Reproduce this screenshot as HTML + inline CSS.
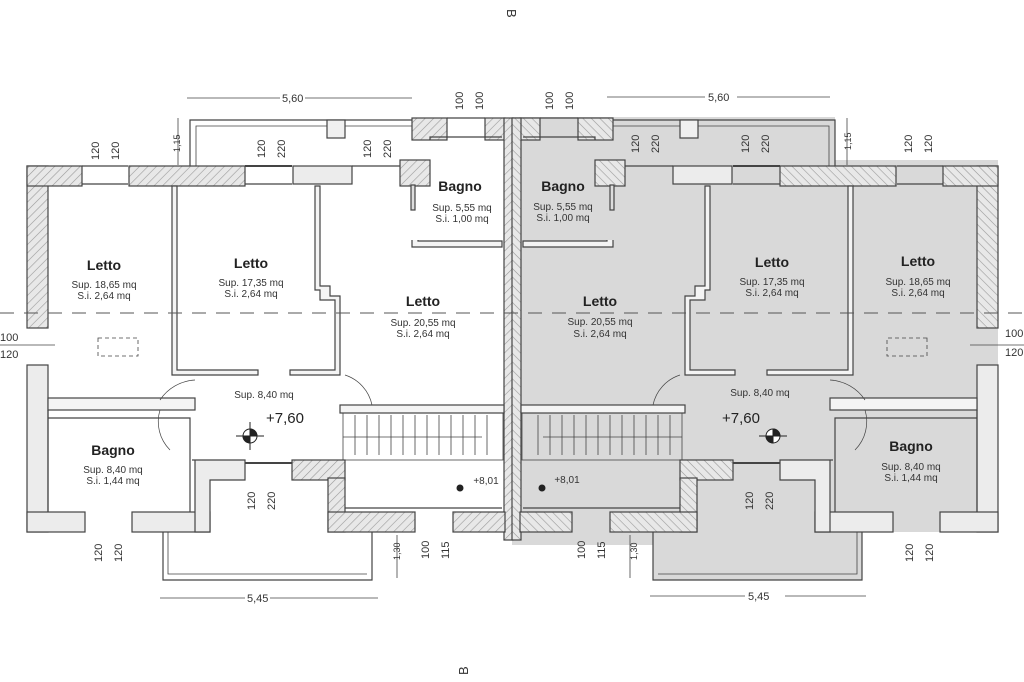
<!DOCTYPE html>
<html><head><meta charset="utf-8"><style>
html,body{margin:0;padding:0;background:#fff;}
svg{display:block;font-family:"Liberation Sans",sans-serif;}
.b{font-weight:bold;font-size:14px;text-anchor:middle;fill:#222}
.s{font-size:10px;text-anchor:middle;fill:#333}
.d{font-size:11px;fill:#333}
</style></head><body>
<svg width="1024" height="682" viewBox="0 0 1024 682" xmlns="http://www.w3.org/2000/svg">
<defs>
<pattern id="h" width="6" height="6" patternUnits="userSpaceOnUse" patternTransform="rotate(45)">
<rect width="6" height="6" fill="#e8e8e8"/><line x1="0" y1="0" x2="0" y2="6" stroke="#999" stroke-width="1.2"/></pattern>
<g id="unit" stroke="#444" stroke-width="1.2">
 <polyline points="190,166 190,120 412,120" fill="none"/>
 <polyline points="196,166 196,126 412,126" fill="none" stroke-width="0.8"/>
 <rect x="327" y="120" width="18" height="18" fill="#f0f0f0"/>
 <rect x="27" y="166" width="21" height="162" fill="url(#h)"/>
 <rect x="27" y="365" width="21" height="167" fill="#ececec"/>
 <rect x="27" y="166" width="55" height="20" fill="url(#h)"/>
 <rect x="129" y="166" width="116" height="20" fill="url(#h)"/>
 <rect x="293" y="166" width="59" height="18" fill="#ececec"/>
 <rect x="400" y="160" width="30" height="26" fill="url(#h)"/>
 <rect x="412" y="118" width="35" height="22" fill="url(#h)"/>
 <rect x="485" y="118" width="20" height="22" fill="url(#h)"/>
 <rect x="504" y="118" width="9" height="422" fill="url(#h)"/>
 <line x1="82" y1="166" x2="128" y2="166"/><line x1="82" y1="184" x2="128" y2="184"/>
 <line x1="245" y1="166" x2="292" y2="166" stroke-width="2"/><line x1="245" y1="184" x2="292" y2="184"/>
 <line x1="352" y1="166" x2="400" y2="166"/>
 <line x1="447" y1="118" x2="485" y2="118"/>
 <polyline points="430,140 430,137 502,137" fill="none"/>
 <rect x="411" y="185" width="4" height="25" fill="#ddd"/>
 <polyline points="412,240 412,247 502,247 502,241 418,241 418,240 z" fill="#f4f4f4"/>
 <polygon points="172,186 177,186 177,370 258,370 258,375 172,375" fill="#f4f4f4"/>
 <polygon points="290,370 335,370 335,300 320,300 320,290 315,290 315,186 320,186 320,286 330,286 330,296 340,296 340,375 290,375" fill="#f4f4f4"/>
 <rect x="48" y="398" width="147" height="12" fill="#f4f4f4"/>
 <line x1="48" y1="410" x2="48" y2="512"/>
 <polyline points="48,418 190,418 190,512" fill="none"/>
 <rect x="340" y="405" width="164" height="8" fill="#f4f4f4"/>
 <rect x="343" y="413" width="160" height="47" fill="none" stroke-width="0.8"/>
 <g stroke-width="0.8">
 <line x1="355" y1="415" x2="355" y2="455"/><line x1="367" y1="415" x2="367" y2="455"/><line x1="379" y1="415" x2="379" y2="455"/><line x1="391" y1="415" x2="391" y2="455"/><line x1="403" y1="415" x2="403" y2="455"/><line x1="415" y1="415" x2="415" y2="455"/><line x1="427" y1="415" x2="427" y2="455"/><line x1="439" y1="415" x2="439" y2="455"/><line x1="451" y1="415" x2="451" y2="455"/><line x1="463" y1="415" x2="463" y2="455"/><line x1="475" y1="415" x2="475" y2="455"/><line x1="487" y1="415" x2="487" y2="455"/>
 <line x1="343" y1="437" x2="482" y2="437"/></g>
 <rect x="27" y="512" width="58" height="20" fill="#ececec"/>
 <rect x="132" y="512" width="78" height="20" fill="#ececec"/>
 <polygon points="192,460 245,460 245,480 210,480 210,532 195,532 195,460" fill="#ececec"/>
 <rect x="292" y="460" width="53" height="20" fill="url(#h)"/>
 <rect x="328" y="478" width="17" height="54" fill="url(#h)"/>
 <rect x="328" y="512" width="87" height="20" fill="url(#h)"/>
 <rect x="453" y="512" width="52" height="20" fill="url(#h)"/>
 <line x1="245" y1="463" x2="292" y2="463" stroke-width="2"/>
 <line x1="345" y1="508" x2="502" y2="508"/>
 <polyline points="163,532 163,580 372,580 372,532" fill="none"/>
 <polyline points="168,532 168,574 367,574" fill="none" stroke-width="0.8"/>
 <path d="M160,400 A45,45 0 0 1 195,380" fill="none" stroke-width="0.7"/>
 <path d="M170,450 A40,40 0 0 1 160,410" fill="none" stroke-width="0.7"/>
 <path d="M345,375 A40,40 0 0 1 372,405" fill="none" stroke-width="0.7"/>
 <rect x="98" y="338" width="40" height="18" fill="none" stroke-dasharray="4,3" stroke-width="0.8"/>
</g>
</defs>
<polygon points="998,160 835,160 835,117 512,117 512,545 653,545 653,580 862,580 862,532 998,532" fill="#d9d9d9"/>
<use href="#unit"/>
<use href="#unit" transform="translate(1025,0) scale(-1,1)"/>
<line x1="0" y1="313" x2="1024" y2="313" stroke="#555" stroke-dasharray="14,10" stroke-width="1"/>
<g stroke="#444" stroke-width="0.8">
<line x1="187" y1="98" x2="280" y2="98"/><line x1="305" y1="98" x2="412" y2="98"/>
<line x1="607" y1="97" x2="705" y2="97"/><line x1="737" y1="97" x2="830" y2="97"/>
<line x1="160" y1="598" x2="245" y2="598"/><line x1="270" y1="598" x2="378" y2="598"/>
<line x1="650" y1="596" x2="745" y2="596"/><line x1="785" y1="596" x2="866" y2="596"/>
<line x1="0" y1="345" x2="55" y2="345"/><line x1="970" y1="345" x2="1024" y2="345"/>
<line x1="178" y1="118" x2="178" y2="165"/><line x1="847" y1="118" x2="847" y2="165"/>
<line x1="397" y1="535" x2="397" y2="578"/><line x1="630" y1="535" x2="630" y2="578"/>
</g>
<text class="d" x="282" y="102">5,60</text><text class="d" x="708" y="101">5,60</text>
<text class="d" x="247" y="602" font-size="9">5,45</text><text class="d" x="748" y="600" font-size="9">5,45</text>
<text class="d" x="0" y="341">100</text><text class="d" x="0" y="358">120</text>
<text class="d" x="1005" y="337">100</text><text class="d" x="1005" y="356">120</text>
<g class="d" font-size="12">
<text transform="translate(99,160) rotate(-90)">120</text><text transform="translate(119,160) rotate(-90)">120</text>
<text transform="translate(265,158) rotate(-90)">120</text><text transform="translate(285,158) rotate(-90)">220</text>
<text transform="translate(371,158) rotate(-90)">120</text><text transform="translate(391,158) rotate(-90)">220</text>
<text transform="translate(463,110) rotate(-90)">100</text><text transform="translate(483,110) rotate(-90)">100</text>
<text transform="translate(553,110) rotate(-90)">100</text><text transform="translate(573,110) rotate(-90)">100</text>
<text transform="translate(639,153) rotate(-90)">120</text><text transform="translate(659,153) rotate(-90)">220</text>
<text transform="translate(749,153) rotate(-90)">120</text><text transform="translate(769,153) rotate(-90)">220</text>
<text transform="translate(912,153) rotate(-90)">120</text><text transform="translate(932,153) rotate(-90)">120</text>
<text transform="translate(255,510) rotate(-90)">120</text><text transform="translate(275,510) rotate(-90)">220</text>
<text transform="translate(102,562) rotate(-90)">120</text><text transform="translate(122,562) rotate(-90)">120</text>
<text transform="translate(429,559) rotate(-90)">100</text><text transform="translate(449,559) rotate(-90)">115</text>
<text transform="translate(585,559) rotate(-90)">100</text><text transform="translate(605,559) rotate(-90)">115</text>
<text transform="translate(753,510) rotate(-90)">120</text><text transform="translate(773,510) rotate(-90)">220</text>
<text transform="translate(913,562) rotate(-90)">120</text><text transform="translate(933,562) rotate(-90)">120</text>
<text transform="translate(400,560) rotate(-90)" font-size="9">1,30</text><text transform="translate(637,560) rotate(-90)" font-size="9">1,30</text>
<text transform="translate(180,152) rotate(-90)" font-size="9">1,15</text><text transform="translate(851,150) rotate(-90)" font-size="9">1,15</text>
<text transform="translate(507,9) rotate(90)" font-size="13">B</text><text transform="translate(468,675) rotate(-90)" font-size="13">B</text>
</g>
<text class="b" x="460" y="191">Bagno</text><text class="s" x="462" y="211">Sup. 5,55 mq</text><text class="s" x="462" y="222">S.i. 1,00 mq</text>
<text class="b" x="104" y="270">Letto</text><text class="s" x="104" y="288">Sup. 18,65 mq</text><text class="s" x="104" y="299">S.i. 2,64 mq</text>
<text class="b" x="251" y="268">Letto</text><text class="s" x="251" y="286">Sup. 17,35 mq</text><text class="s" x="251" y="297">S.i. 2,64 mq</text>
<text class="b" x="423" y="306">Letto</text><text class="s" x="423" y="326">Sup. 20,55 mq</text><text class="s" x="423" y="337">S.i. 2,64 mq</text>
<text class="s" x="264" y="398">Sup. 8,40 mq</text><text x="266" y="423" font-size="15" fill="#222">+7,60</text>
<text class="b" x="113" y="455">Bagno</text><text class="s" x="113" y="473">Sup. 8,40 mq</text><text class="s" x="113" y="484">S.i. 1,44 mq</text>
<text class="s" x="486" y="484" font-size="10">+8,01</text>
<text class="b" x="563" y="191">Bagno</text><text class="s" x="563" y="210">Sup. 5,55 mq</text><text class="s" x="563" y="221">S.i. 1,00 mq</text>
<text class="b" x="600" y="306">Letto</text><text class="s" x="600" y="325">Sup. 20,55 mq</text><text class="s" x="600" y="337">S.i. 2,64 mq</text>
<text class="b" x="772" y="267">Letto</text><text class="s" x="772" y="285">Sup. 17,35 mq</text><text class="s" x="772" y="296">S.i. 2,64 mq</text>
<text class="b" x="918" y="266">Letto</text><text class="s" x="918" y="285">Sup. 18,65 mq</text><text class="s" x="918" y="296">S.i. 2,64 mq</text>
<text class="s" x="760" y="396">Sup. 8,40 mq</text><text x="722" y="423" font-size="15" fill="#222">+7,60</text>
<text class="b" x="911" y="451">Bagno</text><text class="s" x="911" y="470">Sup. 8,40 mq</text><text class="s" x="911" y="481">S.i. 1,44 mq</text>
<text class="s" x="567" y="483">+8,01</text>
<g stroke="#222" stroke-width="1">
<circle cx="250" cy="436" r="7" fill="#fff"/><path d="M250,429 A7,7 0 0 1 257,436 L250,436Z M250,443 A7,7 0 0 1 243,436 L250,436Z" fill="#222"/>
<line x1="236" y1="436" x2="264" y2="436"/><line x1="250" y1="422" x2="250" y2="450"/>
<circle cx="773" cy="436" r="7" fill="#fff"/><path d="M773,429 A7,7 0 0 1 780,436 L773,436Z M773,443 A7,7 0 0 1 766,436 L773,436Z" fill="#222"/>
<line x1="759" y1="436" x2="787" y2="436"/>
<circle cx="460" cy="488" r="3" fill="#222"/><circle cx="542" cy="488" r="3" fill="#222"/>
</g>
</svg>
</body></html>
